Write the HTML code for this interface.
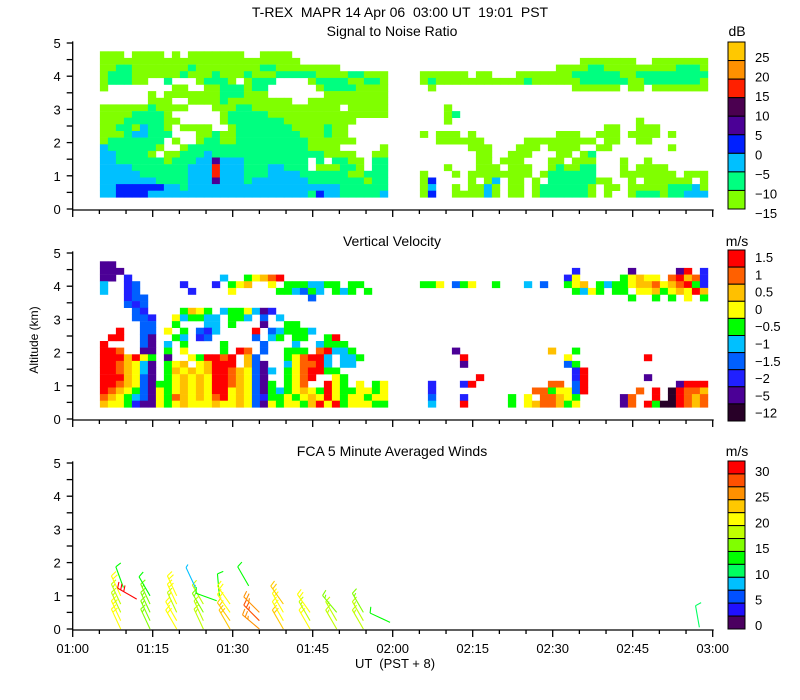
<!DOCTYPE html>
<html><head><meta charset="utf-8"><style>
body{margin:0;background:#fff;}
svg{display:block;font-family:"Liberation Sans",sans-serif;}
</style></head><body>
<svg id="chart" width="800" height="700" viewBox="0 0 800 700" xmlns="http://www.w3.org/2000/svg">
<rect width="800" height="700" fill="#fff"/>
<text x="400" y="17" font-size="14" text-anchor="middle" xml:space="preserve">T-REX  MAPR 14 Apr 06  03:00 UT  19:01  PST</text>
<text x="392" y="36" font-size="14" text-anchor="middle">Signal to Noise Ratio</text>
<text x="392" y="246" font-size="14" text-anchor="middle">Vertical Velocity</text>
<text x="392" y="456" font-size="14" text-anchor="middle">FCA 5 Minute Averaged Winds</text>
<text x="737" y="36" font-size="14" text-anchor="middle">dB</text>
<text x="737" y="246" font-size="14" text-anchor="middle">m/s</text>
<text x="737" y="456" font-size="14" text-anchor="middle">m/s</text>
<text x="0" y="0" font-size="12" text-anchor="middle" transform="translate(38,340) rotate(-90)">Altitude (km)</text>
<text x="395" y="668" font-size="13" text-anchor="middle" xml:space="preserve">UT  (PST + 8)</text>
<g id="layer"></g>
</svg>
<script>
// ---- axis data ----
const xTickLabels = ["01:00","01:15","01:30","01:45","02:00","02:15","02:30","02:45","03:00"];
const yTickLabels = ["0","1","2","3","4","5"];
const panelBase = [209, 419, 629];
// ---- SNR heatmap ----
const snrColors = ["#80ff00","#00ff80","#00c0ff","#0020ff","#4b0096","#4b0050","#ff2000","#ff9000","#ffc800"];
const snrTicks = ["25","20","15","10","5","0","\u22125","\u221210","\u221215"];
const snrRows = [
"000.00 00.0.0 000000 ..0000 ...... ...... | ...... ...... ...... ...... ...... ......",
"000000 000000 000000 000000 0..... ...... | ...... ...... ...... ..0000 000..0 000000",
"001100 000001 000000 001100 000000 ...... | ...... ...... .....0 000110 000000 001110",
"011100 000010 001000 100011 111000 011000 | 000000 .00... 000000 011111 100111 111111",
"011100 ..1... 01110. 0111.. ..0111 100110 | 010000 000000 010000 001111 110011 111110",
"0..... ...00. .00111 011... ...011 110000 | .0.... ...... ...... .00000 0.00.0 000000",
"...... 0.0000 000111 000... ....00 000000 | ...... ...... ...... ...... ...... ......",
"...... 000..0 000100 000000 ..0000 000000 | ...... ...... ...... ...... ...... ......",
"000000 10000. ..0001 100000 000000 .00000 | ...0.. ...... ...... ...... ...... ......",
"000011 110... ...011 111000 000000 000000 | ...01. ...... ...... ...... ...... ......",
"000111 1100.. ...011 111110 000000 00.... | ...0.. ...... ...... ...... ...0.. ......",
"001102 110.00 00..01 111111 000010 0..... | ...... ...... ...... .....0 0..000 ......",
"000122 111... 001001 111111 100010 0..... | 0.000. 0..... .....0 00..00 0.0000 .0....",
"011111 11.0.. 011001 111111 110000 00.... | ..0000 00.... .00000 0000.0 0..00. ......",
"211111 10..01 111111 111111 110000 .....0 | ...... 000... 000.00 00..00 ...... .0....",
"221111 0.0011 121111 111111 111100 00..00 | ...... .00..0 00...0 0.01.. ...... ......",
"221111 110111 224222 111111 11.1.1 100.11 | ...... .00.00 0...00 .000.. .0..0. ......",
"222211 111112 226222 111221 11.000 110.11 | ...0.. .000.0 00..01 0011.. .0.000 0.....",
"222221 111112 226222 111222 211111 100111 | 0...0. 000000 00.011 1111.. .00000 00.000",
"222222 211112 224222 122222 221111 111011 | 03.... 0.02.0 0.0.11 111100 ..0.00 0000.0",
"223333 332212 222222 222222 222222 111111 | 02..0. 0020.0 0.0111 1110.0 0.0000 011120",
"223333 222222 222222 222222 221322 111112 | 03..00 0020.0 0.0111 1110.0 ..0111 011222"
];
// ---- Vertical velocity heatmap ----
const vvColors = ["#280028","#4b0096","#2020ff","#0060ff","#00c0ff","#00ff00","#ffff00","#ffc000","#ff6000","#ff0000"];
const vvTicks = ["1.5","1","0.5","0","\u22120.5","\u22121","\u22121.5","\u22122","\u22125","\u221212"];
const vvRows = [
"11.... ...... ...... ...... ...... ...... | ...... ...... ...... ...... ...... ......",
"111... ...... ...... ...... ...... ...... | ...... ...... ...... .2.... ..1... ..19.2",
"11.2.. ...... ...4.. 56789. ...... ...... | ...... ...... ...... 26.... .56766 .89782",
"4..23. ....2. ..2.56 7..6.5 554455 .55... | 556.35 6..5.. .4.3.. 567.54 556778 678952",
"4..23. .....2 ....6. ....55 4354.5 45.5.. | ...... ...... ...... .5465. 55.667 567697",
"...233 ...... ...... ...... ..3... ...... | ...... ...... ...... ...... ..5..5 .5.6.5",
"...323 ...... ...... ...... ...... ...... | ...... ...... ...... ...... ...... ......",
"....32 ....57 65.455 6412.. ...... ...... | ...... ...... ...... ...... ...... ......",
"....33 2..645 544.55 4.3.4. ...... ...... | ...... ...... ...... ...... ...... ......",
".....3 3..5.. .44.5. ..1..5 5..... ...... | ...... ...... ...... ...... ...... ......",
"..9..3 3.6.5. 324... .9.345 554... ...... | ...... ...... ...... ...... ...... ......",
".99..3 1..54. 23.... .3.45. 55..59 ...... | ...... ...... ...... ...... ...... ......",
"9....3 1.4.5. ...5.. ..3... 4..455 5..... | ...... ...... ...... ...... ...... ......",
"998..1 1.5.6. ...5.9 8.3..5 55.894 45.... | ....1. ...... ....7. .5.... ...... ......",
"999796 5.1..6 59989. 73...5 68994. 445... | .....9 ...... ...... 6..... ....9. ......",
"998764 1.567. 67999. 731..4 68894. 44.... | .....1 ...... ...... 35.... ...... ......",
"998764 1.5767 679987 6314.5 689955 ...... | ...... ...... ...... .29... ...... ......",
"999763 1.5676 769987 631..5 689..6 5..... | ...... .9.... ...... .29... ....1. ......",
"998763 155676 769987 6315.5 68..96 5.6.56 | .2...2 9..... ....88 .39... ...... ..1999",
"987653 165676 769967 631545 676596 556656 | .2.... ...... ..8856 639... ...8.9 .09887",
"876543 165876 768967 632556 567696 566566 | .3...2 .....5 .6.887 65.... .18..9 .09878",
"766521 165676 667667 631656 657969 566655 | .4...9 .....5 .67887 56.... .18.95 009878"
];
const segStart = [5.1, 65.1];
const cellMinutes = 1.5;
const topAlt = 4.65, rowStep = 0.2;
// ---- wind barbs ----
const windT   = [9,9,9,9,9,9.5,12,14.5,14.5,14.5,14.5,14.5,19.5,19.5,19.5,19.5,19.5,24.5,24.5,24.5,24.5,23,27,27.5,29.5,29.5,29.5,29.5,33,35,35,35,39.5,39.5,39.5,39.5,44.5,44.5,44.5,49.5,49.5,49.5,54.5,54.5,54.5,59.5,117.5];
const windAlt = [0,0.25,0.5,0.75,1.0,1.25,0.9,0,0.25,0.5,0.75,1.0,0,0.25,0.5,0.75,1.0,0,0.25,0.5,0.75,1.25,0.85,1.0,0,0.25,0.5,0.75,1.3,0,0.25,0.5,0,0.25,0.5,0.75,0,0.25,0.5,0,0.25,0.5,0,0.25,0.5,0.2,0.05];
const windSpd = [20,21,19,18,20,14,30,17,16,15,16,14,20,20,19,20,21,19,18,17,18,9,13,13,24,23,22,22,13,27,28,26,23,21,22,24,20,19,20,18,19,17,18,19,17,13,12];
const windDir = [335,335,335,335,335,340,300,335,335,335,335,330,330,330,335,335,335,335,335,330,330,335,290,355,330,325,325,325,330,310,315,315,330,330,330,325,330,330,325,330,330,320,330,330,330,295,350];
const windColors = ["#4b0060","#2010ff","#0050ff","#00c0ff","#00ff60","#00ff00","#80ff00","#c0ff00","#ffff00","#ffc800","#ff9000","#ff5000","#ff0000"];
const windTicks = ["30","25","20","15","10","5","0"];

// ---- helpers ----
const NS="http://www.w3.org/2000/svg";
const layer=document.getElementById('layer');
const X0=72.7, PXMIN=640/120, PXKM=33.2;
function xs(min){return X0+min*PXMIN;}
function ys(p,alt){return panelBase[p]-alt*PXKM;}
function mk(tag,attrs,parent){const e=document.createElementNS(NS,tag);for(const k in attrs)e.setAttribute(k,attrs[k]);(parent||layer).appendChild(e);return e;}

function drawHeat(p,rows,colors,name){
  const g=mk('g',{});
  
  
  rows.forEach((row,ri)=>{
    const alt=topAlt-ri*rowStep;
    const parts=row.split('|');
    parts.forEach((s,si)=>{
      s=s.replace(/ /g,'');
      for(let ci=0;ci<s.length&&ci<36;ci++){
        const c=s[ci]; if(c==='.')continue;
        const v=parseInt(c,10); if(isNaN(v))continue;
        const t=segStart[si]+ci*cellMinutes;
        const x1=xs(t), x2=xs(t+cellMinutes);
        const y1=ys(p,alt+rowStep/2), y2=ys(p,alt-rowStep/2);
        const r=mk('rect',{x:x1.toFixed(1),y:y1.toFixed(1),width:(x2-x1+0.3).toFixed(1),height:(y2-y1+0.3).toFixed(1),fill:colors[v]},g);
        
        
      }
    });
  });
}
drawHeat(0,snrRows,snrColors,'snr-heatmap');
drawHeat(1,vvRows,vvColors,'vv-heatmap');

// wind barbs
windT.forEach((t,i)=>{
  const bx=xs(t), by=ys(2,windAlt[i]);
  const ci=Math.min(12,Math.floor(windSpd[i]/2.5));
  const col=windColors[ci];
  const a=windDir[i]*Math.PI/180;
  const ux=Math.sin(a), uy=-Math.cos(a), L=22;
  const g=mk('g',{stroke:col,'stroke-width':1.1,fill:'none'});
  
  
  mk('line',{x1:bx,y1:by,x2:bx+ux*L,y2:by+uy*L},g);
  let s=windSpd[i], k=0;
  const px=-uy, py=ux;
  while(s>=5){
    const len = s>=10?6:3;
    const d=L-k*3.5;
    const sx=bx+ux*d, sy=by+uy*d;
    mk('line',{x1:sx,y1:sy,x2:sx+px*len+ux*2,y2:sy+py*len+uy*2},g);
    s-= s>=10?10:5; k++;
  }
});

// axes and ticks
for(let p=0;p<3;p++){
  const ax=mk('g',{stroke:'#000','stroke-width':1.3});
  
  
  mk('line',{x1:X0,y1:ys(p,5.05),x2:X0,y2:panelBase[p]+1},ax);
  mk('line',{x1:X0,y1:panelBase[p]+1,x2:xs(120)+1,y2:panelBase[p]+1},ax);
  for(let h=0;h<=10;h++){const y=ys(p,h/2);mk('line',{x1:X0-6,y1:y,x2:X0,y2:y},ax);}
  for(let m=0;m<=120;m+=5){const x=xs(m);mk('line',{x1:x,y1:panelBase[p]+1,x2:x,y2:panelBase[p]+(m%15===0?8:5)},ax);}
  yTickLabels.forEach((l,j)=>{
    const tx=mk('text',{x:X0-12,y:ys(p,j)+5,'font-size':13,'text-anchor':'end',fill:'#000'});
    tx.textContent=l;
    
    
  });
}
xTickLabels.forEach((l,j)=>{
  const tx=mk('text',{x:xs(j*15),y:653,'font-size':13,'text-anchor':'middle',fill:'#000'});
  tx.textContent=l;
  
  
});

// colorbars
function colorbar(top,bottom,colors,labels,name,labTop,labStep){
  const g=mk('g',{});
  
  
  const n=colors.length, h=(bottom-top)/n;
  for(let k=0;k<n;k++){
    mk('rect',{x:728,y:top+k*h,width:17,height:h,fill:colors[n-1-k],stroke:'#000','stroke-width':1},g);
  }
  labels.forEach((l,k)=>{
    const t=mk('text',{x:755,y:labTop+k*labStep+5,'font-size':13,fill:'#000'},g);
    t.textContent=l;
    
    
  });
}
colorbar(42,209,snrColors,snrTicks,'snr-colorbar',57,19.5);
colorbar(250,421,vvColors,vvTicks,'vv-colorbar',257,17.3);
colorbar(461,629,windColors,windTicks,'wind-colorbar',471,25.7);
</script>
</body></html>
